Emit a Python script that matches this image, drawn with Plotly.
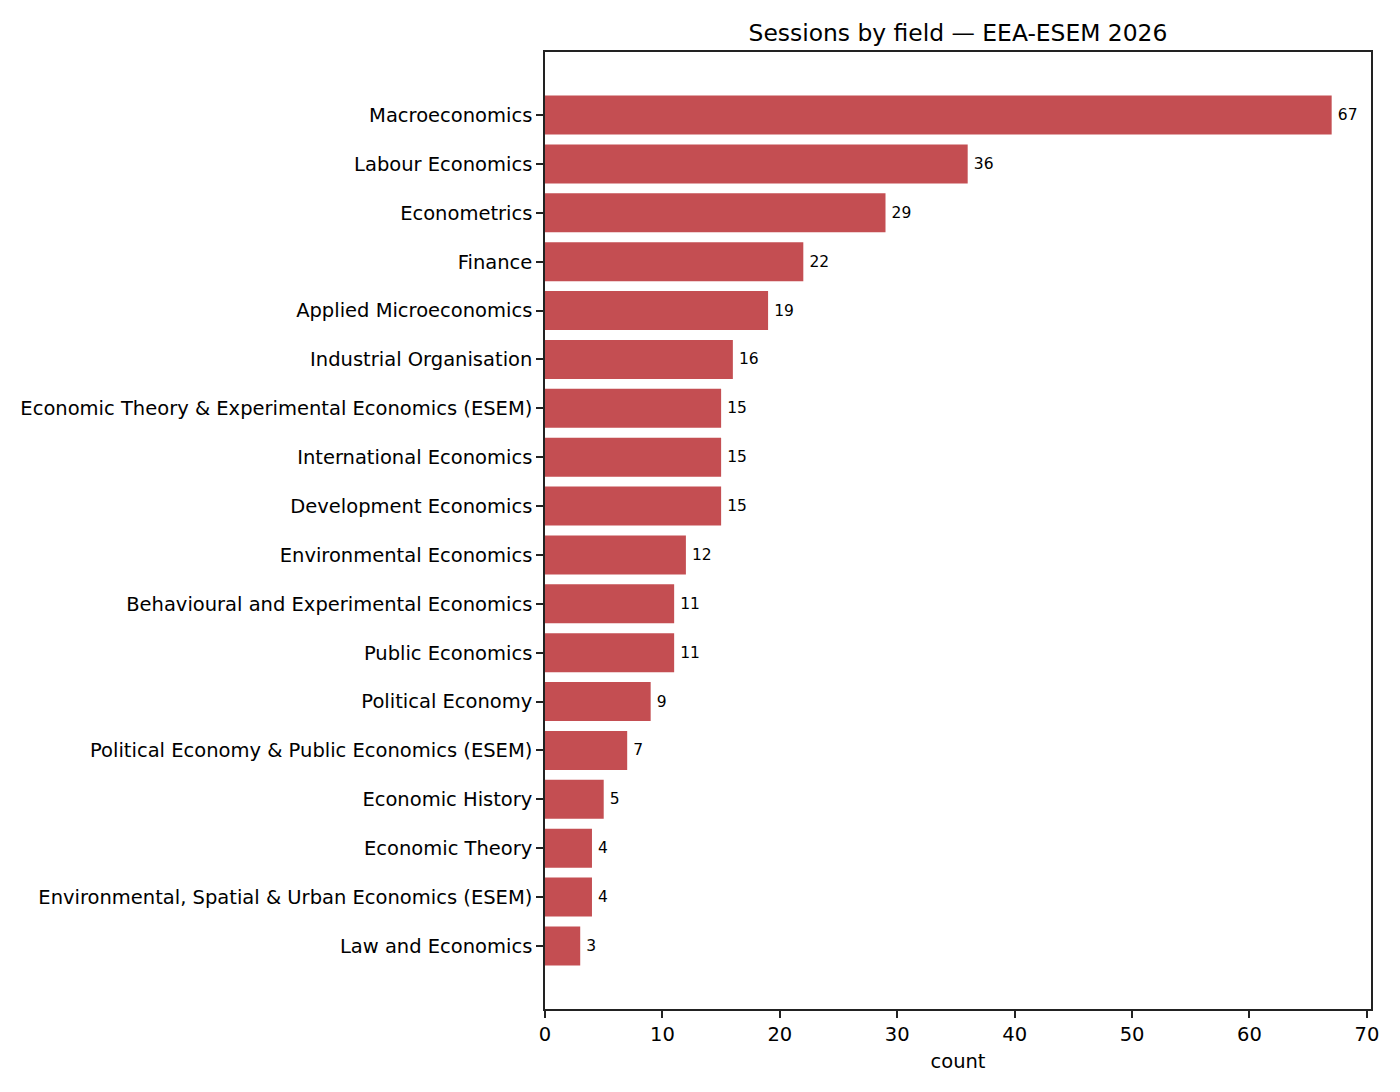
import plotly.graph_objects as go

fields = [
    "Macroeconomics",
    "Labour Economics",
    "Econometrics",
    "Finance",
    "Applied Microeconomics",
    "Industrial Organisation",
    "Economic Theory & Experimental Economics (ESEM)",
    "International Economics",
    "Development Economics",
    "Environmental Economics",
    "Behavioural and Experimental Economics",
    "Public Economics",
    "Political Economy",
    "Political Economy & Public Economics (ESEM)",
    "Economic History",
    "Economic Theory",
    "Environmental, Spatial & Urban Economics (ESEM)",
    "Law and Economics",
]
sessions = [67, 36, 29, 22, 19, 16, 15, 15, 15, 12, 11, 11, 9, 7, 5, 4, 4, 3]

font_family = "DejaVu Sans, sans-serif"

fig = go.Figure(
    go.Bar(
        x=sessions,
        y=fields,
        orientation="h",
        width=0.8,
        marker=dict(color="#c44e52", line=dict(width=0)),
        text=[str(v) for v in sessions],
        # thin space in front so the label sits a bit further from the bar end
        texttemplate="\u2009%{text}",
        textposition="outside",
        textfont=dict(size=15.5, color="black", family=font_family),
        cliponaxis=False,
        hoverinfo="x+y",
    )
)

# page body has an 8px margin, so the figure is 16px smaller than the window
W, H = 1384, 1076
left, right, top, bottom = 537, 1363, 44, 1001

n = len(fields)
fig.update_layout(
    width=W,
    height=H,
    margin=dict(l=left, r=W - right, t=top, b=H - bottom),
    plot_bgcolor="white",
    paper_bgcolor="white",
    font=dict(family=font_family, size=19.5, color="black"),
    title=dict(
        text="Sessions by field — EEA-ESEM 2026",
        x=(left + right) / 2 / W,
        xanchor="center",
        y=1 - 25 / H,
        yanchor="middle",
        font=dict(size=23.4, color="black"),
    ),
    showlegend=False,
)

axis_style = dict(
    showgrid=False,
    zeroline=False,
    showline=True,
    mirror=True,
    linecolor="#222",
    linewidth=1.5,
    ticks="outside",
    ticklen=7,
    tickwidth=1.5,
    tickcolor="#222",
    tickfont=dict(size=19.5),
)

fig.update_xaxes(
    range=[0, 67 * 1.05],
    tickvals=[0, 10, 20, 30, 40, 50, 60, 70],
    title=dict(text="count", font=dict(size=19.5), standoff=9),
    **axis_style,
)
fig.update_yaxes(
    range=[n - 0.6 + 0.89, -0.4 - 0.89],
    **axis_style,
)

fig.write_html("out.html")
